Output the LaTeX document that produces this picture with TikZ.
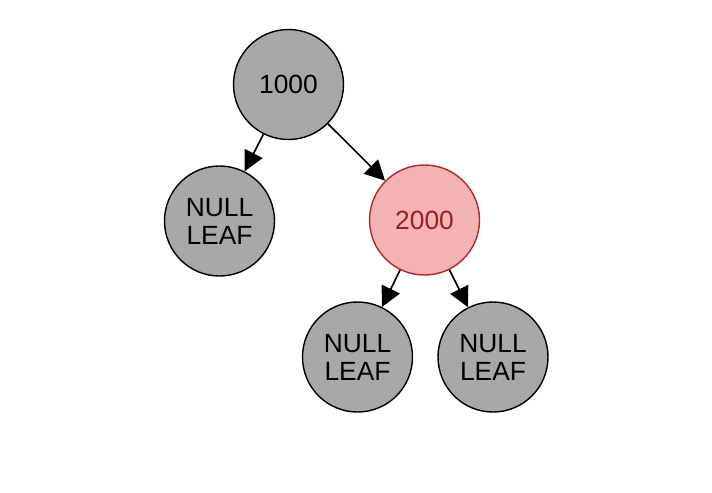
\documentclass[tikz,border=0pt]{standalone}
\usepackage{fontspec}
\setmainfont{Liberation Sans}
\usepackage{tikz}
\usetikzlibrary{arrows.meta}
\definecolor{nodegray}{HTML}{A8A8A8}
\definecolor{redfill}{HTML}{F4B3B3}
\definecolor{redline}{HTML}{B02828}
\definecolor{redtext}{HTML}{9A2020}
\tikzset{
  treenode/.style = {align=center, inner sep=0pt, text centered, font=\fontsize{15}{16}\selectfont},
  tnode/.style = {treenode, circle, black, draw=black, fill=nodegray, line width=0.8pt, minimum size=2.2cm},
  rnode/.style = {treenode, circle, text=redtext, draw=redline, fill=redfill, line width=0.8pt, minimum size=2.2cm},
  tnull/.style = {tnode},
  tedge/.style = {draw, line width=0.95pt, -{Triangle[length=0.4cm, width=0.4cm]}}
}
\begin{document}
\begin{tikzpicture}
\useasboundingbox (0,0) rectangle (14.24,-9.84);
\node [tnode] (root) at (5.77,-1.69) {1000};
\node [tnull] (nullA) at (4.39,-4.42) {NULL\\LEAF};
\node [rnode] (red) at (8.49,-4.40) {2000};
\node [tnull] (nullB) at (7.15,-7.14) {NULL\\LEAF};
\node [tnull] (nullC) at (9.86,-7.14) {NULL\\LEAF};
\draw [tedge] (root) -- (nullA);
\draw [tedge] (root) -- (red);
\draw [tedge] (red) -- (nullB);
\draw [tedge] (red) -- (nullC);
\end{tikzpicture}
\end{document}
